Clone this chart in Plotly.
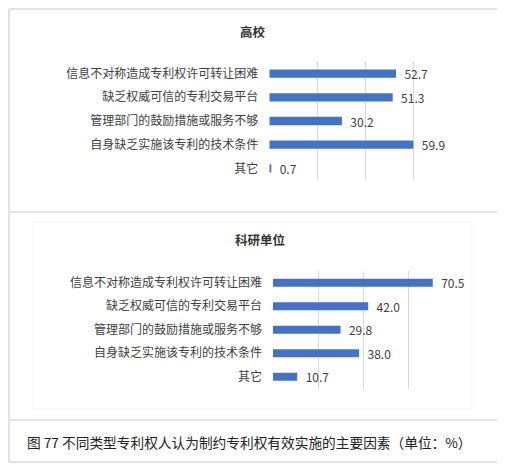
"""Main factors restricting effective patent implementation, by patentee type."""

import plotly.graph_objects as go

categories = [
    '信息不对称造成专利权许可转让困难',
    '缺乏权威可信的专利交易平台',
    '管理部门的鼓励措施或服务不够',
    '自身缺乏实施该专利的技术条件',
    '其它',
]
gaoxiao_values = [52.7, 51.3, 30.2, 59.9, 0.7]
keyan_values = [70.5, 42.0, 29.8, 38.0, 10.7]

panel_titles = ['高校', '科研单位']
caption = '图 77 不同类型专利权人认为制约专利权有效实施的主要因素（单位：%）'

# page body keeps its default 8px margin, so size the figure to fit inside it
OFFSET = 8
W, H = 505 - OFFSET, 467 - OFFSET
BAR_COLOR = '#4472C4'
GRID_COLOR = '#d9d9d9'
FRAME_COLOR = '#e3e3e3'
FONT = 'Noto Sans CJK SC'


def px_x(x):
    """screen x pixel -> paper coordinate"""
    return max(x - OFFSET, 1) / W


def px_y(y):
    """screen y pixel -> paper coordinate"""
    return 1 - max(y - OFFSET, 1) / H


def make_bar(values, xa, ya):
    return go.Bar(
        x=values,
        y=categories,
        orientation='h',
        marker=dict(color=BAR_COLOR, line=dict(width=0)),
        width=0.35,
        text=values,
        texttemplate='  %{x:.1f}',
        textposition='outside',
        constraintext='none',
        textfont=dict(size=12, color='#404040', family=FONT),
        cliponaxis=False,
        xaxis=xa,
        yaxis=ya,
    )


fig = go.Figure()
fig.add_trace(make_bar(gaoxiao_values, 'x', 'y'))
fig.add_trace(make_bar(keyan_values, 'x2', 'y2'))

xaxis_common = dict(
    range=[0, 80],
    dtick=20,
    showgrid=True,
    gridcolor=GRID_COLOR,
    gridwidth=1,
    zeroline=False,
    showline=False,
    showticklabels=False,
    fixedrange=True,
)
yaxis_common = dict(
    autorange='reversed',
    showgrid=False,
    showline=False,
    ticks='',
    ticklabelstandoff=10,
    tickfont=dict(size=12, color='#404040', family=FONT),
    fixedrange=True,
)

fig.update_layout(
    width=W,
    height=H,
    margin=dict(l=0, r=0, t=0, b=0),
    paper_bgcolor='white',
    plot_bgcolor='white',
    showlegend=False,
    font=dict(family=FONT, color='#404040'),
    xaxis=dict(domain=[px_x(269.3), px_x(461.7)], anchor='y', **xaxis_common),
    yaxis=dict(domain=[px_y(180.3), px_y(61.7)], anchor='x', **yaxis_common),
    xaxis2=dict(domain=[px_x(273), px_x(454.3)], anchor='y2', **xaxis_common),
    yaxis2=dict(domain=[px_y(388.5), px_y(271)], anchor='x2', **yaxis_common),
)

# panel titles and caption
title_font = dict(size=12.5, color='#333333', family=FONT)
fig.add_annotation(text='<b>' + panel_titles[0] + '</b>', x=px_x(252.7), y=px_y(31),
                   xref='paper', yref='paper', xanchor='center', yanchor='middle',
                   showarrow=False, font=title_font)
fig.add_annotation(text='<b>' + panel_titles[1] + '</b>', x=px_x(260), y=px_y(239.5),
                   xref='paper', yref='paper', xanchor='center', yanchor='middle',
                   showarrow=False, font=title_font)
fig.add_annotation(text=caption, x=px_x(249), y=px_y(442), xref='paper', yref='paper',
                   xanchor='center', yanchor='middle', showarrow=False,
                   font=dict(size=13.7, color='#222222', family=FONT))

# frame around the panels
frame = dict(type='line', xref='paper', yref='paper',
             line=dict(color=FRAME_COLOR, width=2))
fig.add_shape(x0=px_x(5), x1=px_x(5), y0=px_y(3), y1=px_y(462), **frame)
fig.add_shape(x0=px_x(501), x1=px_x(501), y0=px_y(3), y1=px_y(462), **frame)
fig.add_shape(x0=px_x(5), x1=px_x(501), y0=px_y(3), y1=px_y(3), **frame)
fig.add_shape(x0=px_x(5), x1=px_x(501), y0=px_y(212), y1=px_y(212), **frame)
fig.add_shape(x0=px_x(5), x1=px_x(501), y0=px_y(420), y1=px_y(420), **frame)
fig.add_shape(x0=px_x(5), x1=px_x(501), y0=px_y(462), y1=px_y(462), **frame)

# faint chart-area outline of the lower panel
fig.add_shape(type='rect', xref='paper', yref='paper',
              x0=px_x(33), x1=px_x(472), y0=px_y(409), y1=px_y(222),
              line=dict(color='#f6f6f6', width=1))

fig.write_html("out.html")
